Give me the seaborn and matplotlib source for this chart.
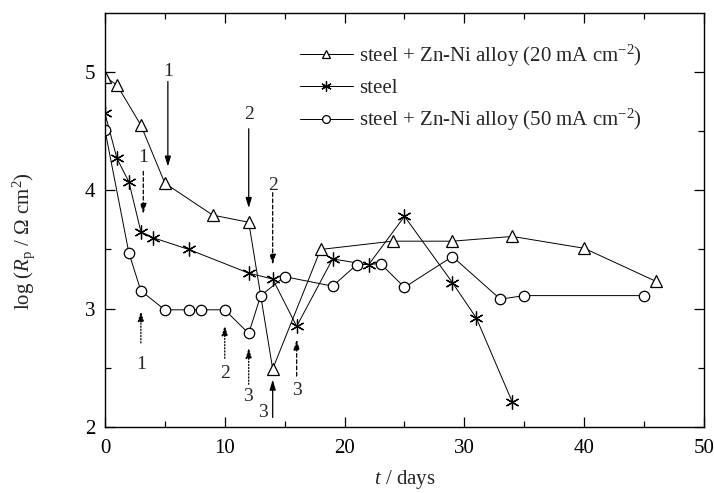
import pandas as pd
import matplotlib.pyplot as plt
import seaborn as sns

# ---------------------------------------------------------------
# Data: log(Rp) vs time for the three samples
# ---------------------------------------------------------------

t_zn20 = [0, 1, 3, 5, 9, 12, 14, 18, 24, 29, 34, 40, 46]
rp_zn20 = [4.96, 4.89, 4.55, 4.06, 3.79, 3.73, 2.49, 3.50, 3.57, 3.57, 3.61, 3.51, 3.23]

t_steel = [0, 1, 2, 3, 4, 7, 12, 14, 16, 19, 22, 25, 29, 31, 34]
rp_steel = [4.65, 4.27, 4.07, 3.65, 3.60, 3.50, 3.30, 3.25, 2.85, 3.42, 3.37, 3.78, 3.22, 2.92, 2.21]

t_zn50 = [0, 2, 3, 5, 7, 8, 10, 12, 13, 15, 19, 21, 23, 25, 29, 33, 35, 45]
rp_zn50 = [4.51, 3.47, 3.15, 2.99, 2.99, 2.99, 2.99, 2.79, 3.11, 3.27, 3.19, 3.37, 3.38, 3.18, 3.44, 3.08, 3.11, 3.11]

labels = [
    r"steel + Zn-Ni alloy (20 mA cm$^{-2}$)",
    "steel",
    r"steel + Zn-Ni alloy (50 mA cm$^{-2}$)",
]

# ---------------------------------------------------------------
# Style
# ---------------------------------------------------------------

sns.set_style("ticks", {"xtick.direction": "in", "ytick.direction": "in"})
plt.rcParams["font.family"] = ["Liberation Serif", "DejaVu Serif"]
plt.rcParams["mathtext.fontset"] = "custom"
plt.rcParams["mathtext.rm"] = "Liberation Serif"
plt.rcParams["mathtext.it"] = "Liberation Serif:italic"
plt.rcParams["axes.linewidth"] = 1.0
plt.rcParams["axes.edgecolor"] = "black"

fig, ax = plt.subplots(figsize=(7.14, 4.93), dpi=100)
fig.subplots_adjust(left=0.147, right=0.986, bottom=0.134, top=0.974)

series = [
    (t_zn20, rp_zn20, "^", 8, labels[0]),
    (t_steel, rp_steel, (6, 2, 0), 10, labels[1]),
    (t_zn50, rp_zn50, "o", 7.5, labels[2]),
]

for t, rp, mk, ms, lab in series:
    df = pd.DataFrame({"t": t, "rp": rp})
    sns.lineplot(data=df, x="t", y="rp", ax=ax, sort=False, errorbar=None,
                 color="black", linewidth=0.7, marker=mk, markersize=ms,
                 markerfacecolor="white", markeredgecolor="black",
                 markeredgewidth=0.9, label=lab)

# ---------------------------------------------------------------
# Arrows marking events (solid: 20 mA, dashed: steel, dotted: 50 mA)
# ---------------------------------------------------------------

def arrow(x, y0, y1, ls):
    ax.annotate("", xy=(x, y1), xytext=(x, y0),
                arrowprops=dict(arrowstyle="-|>,head_length=0.6,head_width=0.18",
                                color="black", lw=0.9, linestyle=ls,
                                shrinkA=0, shrinkB=0))

fs_ann = 14
# solid, triangles
arrow(5.25, 4.92, 4.20, "-")
ax.text(5.25, 5.00, "1", ha="center", va="center", fontsize=fs_ann)
arrow(12.0, 4.52, 3.85, "-")
ax.text(12.0, 4.64, "2", ha="center", va="center", fontsize=fs_ann)
arrow(14.0, 2.08, 2.40, "-")
ax.text(13.2, 2.12, "3", ha="center", va="center", fontsize=fs_ann)

# dashed, steel
arrow(3.2, 4.16, 3.80, (0, (3, 2)))
ax.text(3.2, 4.28, "1", ha="center", va="center", fontsize=fs_ann)
arrow(14.0, 3.98, 3.37, (0, (3, 2)))
ax.text(14.0, 4.04, "2", ha="center", va="center", fontsize=fs_ann)
arrow(16.0, 2.43, 2.74, (0, (3, 2)))
ax.text(16.0, 2.31, "3", ha="center", va="center", fontsize=fs_ann)

# dotted, circles
arrow(3.0, 2.71, 2.98, (0, (1, 1.5)))
ax.text(3.0, 2.53, "1", ha="center", va="center", fontsize=fs_ann)
arrow(10.0, 2.58, 2.86, (0, (1, 1.5)))
ax.text(10.0, 2.45, "2", ha="center", va="center", fontsize=fs_ann)
arrow(12.0, 2.36, 2.67, (0, (1, 1.5)))
ax.text(11.9, 2.26, "3", ha="center", va="center", fontsize=fs_ann)

# ---------------------------------------------------------------
# Axes
# ---------------------------------------------------------------

ax.set_xlim(0, 50)
ax.set_ylim(2, 5.5)
ax.set_xticks([0, 10, 20, 30, 40, 50])
ax.set_xticks([5, 15, 25, 35, 45], minor=True)
ax.set_yticks([2, 3, 4, 5])
ax.set_yticks([2.5, 3.5, 4.5], minor=True)
ax.tick_params(which="both", direction="in", top=True, right=True,
               labelsize=15, width=0.9, colors="black", pad=7)
ax.tick_params(axis="x", which="both", pad=9)
ax.tick_params(which="major", length=7)
ax.tick_params(which="minor", length=4)

ax.set_xlabel(r"$t$ / days", fontsize=15, labelpad=7)
ax.set_ylabel(r"log ($R_{\rm p}$ / $\Omega$ cm$^{2}$)", fontsize=15)
ax.yaxis.set_label_coords(-0.113, 0.45)

ax.legend(loc="upper left", bbox_to_anchor=(0.302, 0.963), frameon=False,
          fontsize=15, handlelength=2.5, handletextpad=0.3, labelspacing=0.45,
          borderpad=0.2, markerscale=0.75)

plt.savefig("out.png", dpi=100)
